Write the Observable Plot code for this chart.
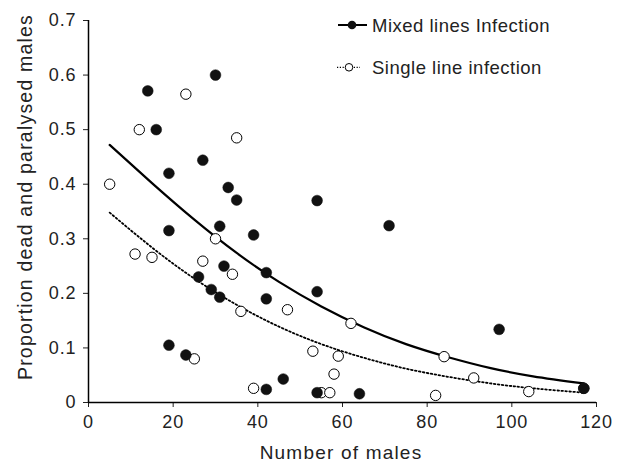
<!DOCTYPE html>
<html><head><meta charset="utf-8">
<script src="https://cdn.jsdelivr.net/npm/d3@7"></script>
<script src="https://cdn.jsdelivr.net/npm/@observablehq/plot@0.6"></script>
<style>
body{margin:0;background:#fff;font-family:"Liberation Sans",Arial,sans-serif;}
#wrap{position:relative;width:619px;height:461px;}
#legend{position:absolute;left:0;top:0;width:619px;height:100px;pointer-events:none;}
</style></head>
<body><div id="wrap"><div id="chart"></div>
<svg id="legend" width="619" height="100" font-family="Liberation Sans, Arial, sans-serif" font-size="18.5" letter-spacing="0.5" fill="#222">
<line x1="338" x2="367" y1="25" y2="25" stroke="#000" stroke-width="2"/>
<circle cx="352" cy="25" r="4.3" fill="#111"/>
<text x="372" y="31.5">Mixed lines Infection</text>
<line x1="337" x2="360" y1="67.3" y2="67.3" stroke="#000" stroke-width="1.3" stroke-dasharray="1.2,1.6"/>
<circle cx="349" cy="67.3" r="3.8" fill="#fff" stroke="#000" stroke-width="1"/>
<text x="372" y="73.5">Single line infection</text>
</svg></div>
<script>
const mixedX = [14,30,16,27,19,33,35,54,19,31,39,32,42,26,54,29,31,42,19,23,46,42,54,71,97,64,117];
const mixedY = [0.571,0.6,0.5,0.444,0.42,0.394,0.371,0.37,0.315,0.323,0.307,0.25,0.238,0.23,0.203,0.207,0.193,0.19,0.105,0.087,0.043,0.024,0.018,0.324,0.134,0.016,0.026];
const singleX = [23,12,35,5,30,11,15,27,34,36,47,62,25,53,59,58,39,55,57,84,91,104,82,117];
const singleY = [0.565,0.5,0.485,0.4,0.3,0.272,0.266,0.259,0.235,0.167,0.17,0.145,0.08,0.094,0.085,0.052,0.026,0.018,0.018,0.084,0.045,0.02,0.013,0.026];
const curveX = [5,15,25,35,45,55,65,75,85,95,105,117];
const mixedFitY = [0.472,0.402,0.335,0.274,0.221,0.176,0.138,0.107,0.083,0.063,0.048,0.035];
const singleFitY = [0.348,0.284,0.227,0.179,0.139,0.107,0.082,0.062,0.047,0.035,0.026,0.018];
const xTicks = [0,20,40,60,80,100,120];
const yTicks = [0,0.1,0.2,0.3,0.4,0.5,0.6,0.7];
const xTitle = "Number of males";
const yTitle = "Proportion dead and paralysed males";

const mixed = mixedX.map((x,i)=>({x, y: mixedY[i]}));
const single = singleX.map((x,i)=>({x, y: singleY[i]}));
const fitM = curveX.map((x,i)=>({x, y: mixedFitY[i]}));
const fitS = curveX.map((x,i)=>({x, y: singleFitY[i]}));

const chart = Plot.plot({
  width: 619, height: 461,
  marginLeft: 88, marginRight: 23, marginTop: 20, marginBottom: 59,
  style: {fontFamily: "Liberation Sans, Arial, sans-serif", fontSize: "18px", color: "#222", background: "#fff", overflow: "visible"},
  x: {domain: [0,120]},
  y: {domain: [0,0.7]},
  marks: [
    Plot.axisX({ticks: xTicks, tickSize: 5, tickPadding: 8, fontSize: 18, label: null}),
    Plot.axisY({ticks: yTicks, tickSize: 5, tickPadding: 7, fontSize: 18, tickFormat: d => d === 0 ? "0" : d.toFixed(1), label: null}),
    Plot.text([xTitle], {text: d => d, frameAnchor: "bottom", dx: -1.5, dy: 56, fontSize: 19, lineAnchor: "bottom", textAnchor: "middle", fill: "#222", className: "xtitle"}),
    Plot.text([yTitle], {text: d => d, frameAnchor: "left", dx: -63, dy: -14.5, rotate: -90, fontSize: 19.5, lineAnchor: "middle", textAnchor: "middle", fill: "#222", className: "ytitle"}),
    Plot.ruleY([0], {stroke: "#000", strokeWidth: 1.5}),
    Plot.ruleX([0], {stroke: "#000", strokeWidth: 1.5}),
    Plot.line(fitS, {x: "x", y: "y", curve: "natural", stroke: "#000", strokeWidth: 1.8, strokeDasharray: "1.6,2.4"}),
    Plot.line(fitM, {x: "x", y: "y", curve: "natural", stroke: "#000", strokeWidth: 2.2}),
    Plot.dot(single, {x: "x", y: "y", r: 5.2, fill: "#fff", stroke: "#000", strokeWidth: 1}),
    Plot.dot(mixed, {x: "x", y: "y", r: 5.4, fill: "#111", stroke: "#111", strokeWidth: 0.5})
  ]
});
const svg = d3.select(chart);
svg.selectAll("text").each(function() {
  const t = this.textContent;
  if (t === xTitle || t === yTitle) d3.select(this).attr("letter-spacing", 1.2);
});
svg.selectAll("g[aria-label='x-axis tick label'] text, g[aria-label='y-axis tick label'] text").attr("letter-spacing", 0.9);
document.getElementById("chart").appendChild(chart);
</script></body></html>
